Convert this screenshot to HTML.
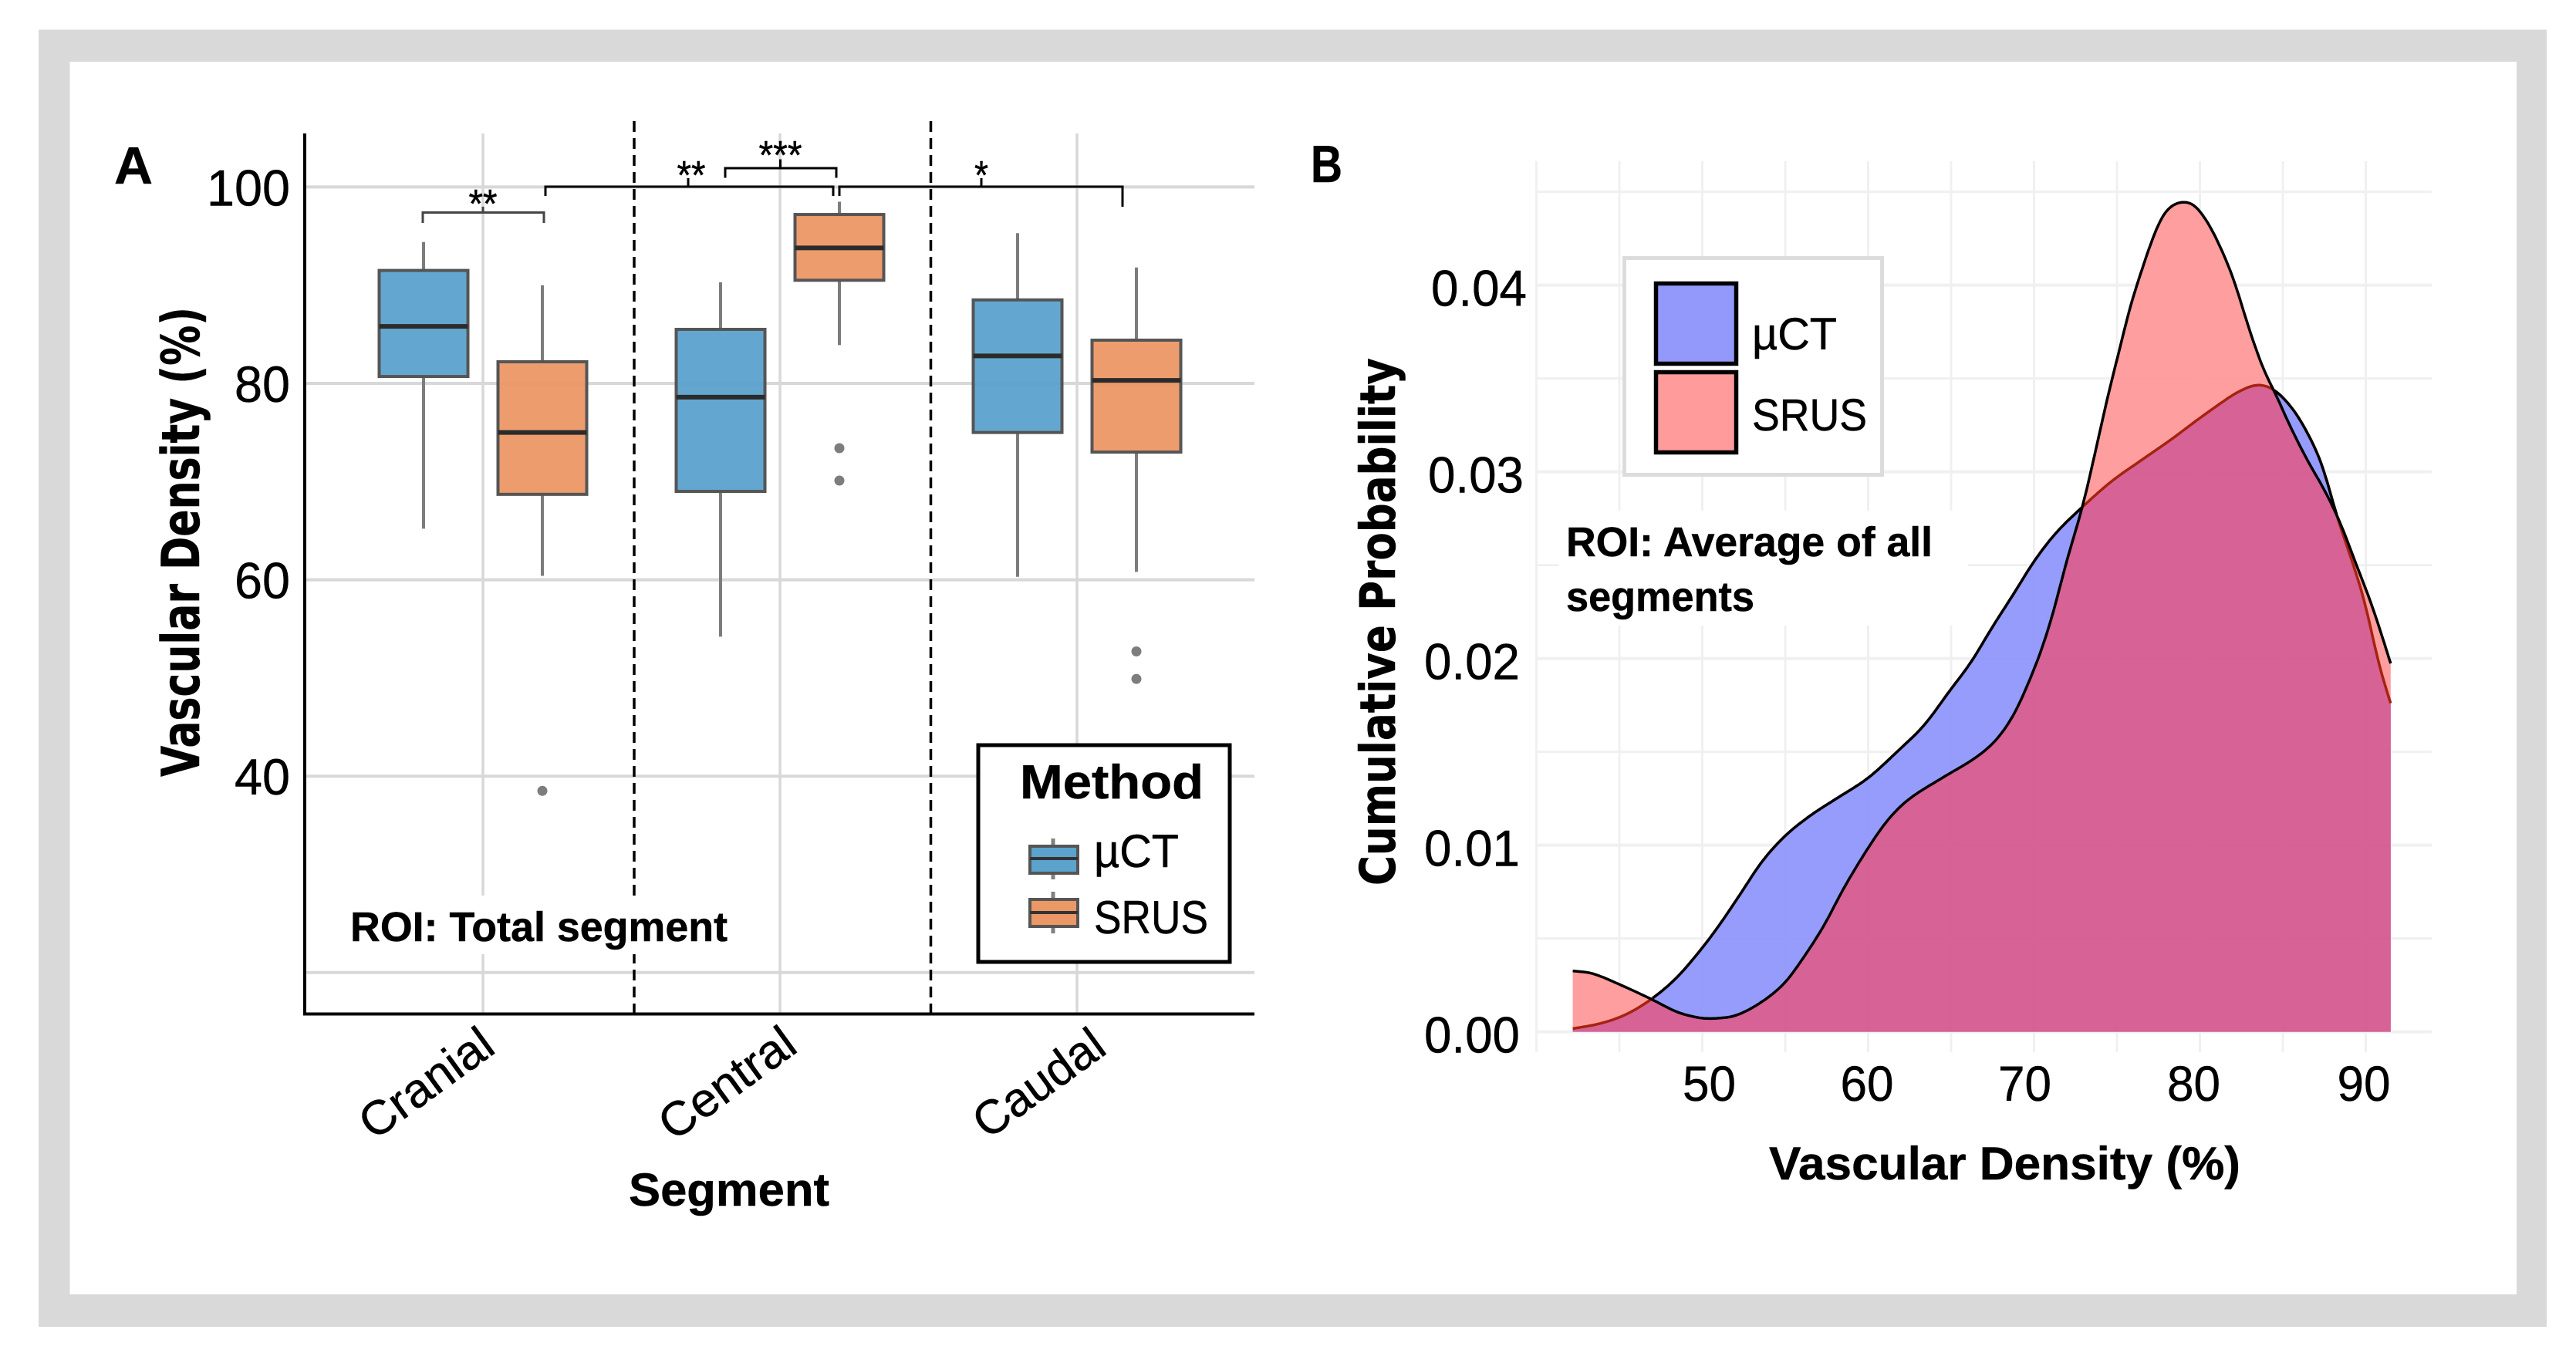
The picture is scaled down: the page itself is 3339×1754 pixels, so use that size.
<!DOCTYPE html>
<html lang="en">
<head>
<meta charset="utf-8">
<title>Vascular density boxplot and density chart</title>
<style>
html,body{margin:0;padding:0;background:#fff;}
svg{display:block;}
text{font-family:"Liberation Sans",sans-serif;fill:#000;stroke:#000;stroke-width:0.5;}
.dj{font-family:"DejaVu Sans",sans-serif;font-weight:bold;}
.b{font-weight:bold;}
</style>
</head>
<body>
<svg id="fig" xmlns="http://www.w3.org/2000/svg" width="3339" height="1754" viewBox="0 0 3339 1754">
  <rect x="0" y="0" width="3339" height="1754" fill="#fff"/>
  <rect x="50" y="38.5" width="3251" height="1681.5" fill="#d9d9d9"/>
  <rect x="90.5" y="80" width="3171.5" height="1598" fill="#fff"/>

  <g id="panelA"></g>
  <g id="panelB"></g>

  <!-- Panel A static annotations -->
  <text x="148" y="238" font-size="68" class="b" textLength="50" lengthAdjust="spacingAndGlyphs">A</text>
  <text class="dj" transform="translate(258,1007) rotate(-90)" font-size="68" textLength="609" lengthAdjust="spacingAndGlyphs">Vascular Density (%)</text>
  <text x="815" y="1563" font-size="60" class="b" textLength="260" lengthAdjust="spacingAndGlyphs">Segment</text>

  <rect x="448" y="1161" width="505" height="76" fill="#fff"/>
  <text x="454" y="1220" font-size="54" class="b" textLength="489" lengthAdjust="spacingAndGlyphs">ROI: Total segment</text>

  <g>
    <rect x="1268" y="966" width="326" height="281" fill="#fff" stroke="#000" stroke-width="5"/>
    <text x="1322" y="1035" font-size="62" class="b" textLength="238" lengthAdjust="spacingAndGlyphs">Method</text>
    <g>
      <line x1="1365" x2="1365" y1="1087" y2="1140" stroke="#808080" stroke-width="5"/>
      <rect x="1335" y="1097" width="62" height="35" fill="#5ba2cd" stroke="#555" stroke-width="4"/>
      <line x1="1335" x2="1397" y1="1113" y2="1113" stroke="#333" stroke-width="4"/>
      <text x="1418" y="1124" font-size="60" textLength="110" lengthAdjust="spacingAndGlyphs">µCT</text>
    </g>
    <g>
      <line x1="1365" x2="1365" y1="1156" y2="1210" stroke="#808080" stroke-width="5"/>
      <rect x="1335" y="1166" width="62" height="35" fill="#ec9766" stroke="#555" stroke-width="4"/>
      <line x1="1335" x2="1397" y1="1183" y2="1183" stroke="#333" stroke-width="4"/>
      <text x="1418" y="1210" font-size="60" textLength="148" lengthAdjust="spacingAndGlyphs">SRUS</text>
    </g>
  </g>

  <!-- Significance brackets -->
  <g fill="none">
    <path d="M548 289V275.5H705V289M626 275.5V268" stroke="#444" stroke-width="3"/>
    <path d="M707 254V242H1080V254M892 242V231" stroke="#000" stroke-width="3"/>
    <path d="M940 230.5V218H1084V230.5M1011.5 218V206.5" stroke="#000" stroke-width="3"/>
    <path d="M1088 254V242H1455V268M1272 242V231" stroke="#000" stroke-width="3"/>
  </g>
  <text x="626" y="282" font-size="52" text-anchor="middle" textLength="37" lengthAdjust="spacingAndGlyphs">**</text>
  <text x="896" y="245" font-size="52" text-anchor="middle" textLength="37" lengthAdjust="spacingAndGlyphs">**</text>
  <text x="1011.5" y="219" font-size="52" text-anchor="middle" textLength="56" lengthAdjust="spacingAndGlyphs">***</text>
  <text x="1272" y="245" font-size="52" text-anchor="middle" textLength="18" lengthAdjust="spacingAndGlyphs">*</text>

  <!-- Panel B static annotations -->
  <text x="1699" y="236" font-size="68" class="b" textLength="41" lengthAdjust="spacingAndGlyphs">B</text>
  <text class="dj" transform="translate(1808,1148) rotate(-90)" font-size="63" textLength="684" lengthAdjust="spacingAndGlyphs">Cumulative Probability</text>
  <text x="2293" y="1529" font-size="60" class="b" textLength="611" lengthAdjust="spacingAndGlyphs">Vascular Density (%)</text>

  <g>
    <rect x="2105.5" y="334.5" width="334" height="281" fill="#fff" stroke="#dcdcdc" stroke-width="5"/>
    <g>
      <rect x="2146.5" y="367.5" width="104" height="104" fill="#9399fb" stroke="#000" stroke-width="5.5"/>
      <text x="2271" y="453" font-size="58" textLength="110" lengthAdjust="spacingAndGlyphs">µCT</text>
    </g>
    <g>
      <rect x="2146.5" y="482.5" width="104" height="104" fill="#ff9b9b" stroke="#000" stroke-width="5.5"/>
      <text x="2271" y="558" font-size="58" textLength="149" lengthAdjust="spacingAndGlyphs">SRUS</text>
    </g>
  </g>
  <text x="2030" y="721" font-size="54" class="b" textLength="475" lengthAdjust="spacingAndGlyphs">ROI: Average of all</text>
  <text x="2030" y="792" font-size="54" class="b" textLength="244" lengthAdjust="spacingAndGlyphs">segments</text>
</svg>

<script>
// ---------- Panel A data ----------
var segments = ['Cranial', 'Central', 'Caudal'];
var yTicksA = [100, 80, 60, 40, 20];
var yTickLabelsA = ['100', '80', '60', '40'];

var ctHigh   = [94.4, 90.3, 95.3];
var ctQ3     = [91.5, 85.5, 88.5];
var ctMedian = [85.8, 78.6, 82.8];
var ctQ1     = [80.7, 69.0, 75.0];
var ctLow    = [65.2, 54.2, 60.3];

var srusHigh   = [90.0, 98.5, 91.8];
var srusQ3     = [82.2, 97.2, 84.4];
var srusMedian = [75.0, 93.8, 80.3];
var srusQ1     = [68.7, 90.5, 73.0];
var srusLow    = [60.4, 83.9, 60.8];

var srusOutliersCranial = [38.5];
var srusOutliersCentral = [73.4, 70.1];
var srusOutliersCaudal  = [52.7, 49.9];

// ---------- Panel B data ----------
var yTicksB = [0, 0.01, 0.02, 0.03, 0.04];
var yMinorTicksB = [0.005, 0.015, 0.025, 0.035, 0.045];
var yTickLabelsB = ['0.00', '0.01', '0.02', '0.03', '0.04'];
var xTicksB = [50, 60, 70, 80, 90];
var xMinorTicksB = [40, 45, 55, 65, 75, 85];

var ctDensityX = [42.19, 43.83, 45.38, 46.93, 48.48, 50, 51.1, 52.36, 53.6, 55, 56.54, 58.1, 60, 61.8, 63.4, 64.9, 66.2, 67.5, 68.8, 70, 71.3, 72.9, 74.69, 76.52, 78.36, 79.83, 81.12, 82.23, 83.42, 84.43, 85.54, 86.46, 87.38, 88.3, 89.03, 89.95, 90.78, 91.5];
var ctDensityY = [0.00017, 0.00044, 0.00092, 0.00175, 0.00292, 0.0045, 0.00581, 0.00747, 0.00912, 0.0105, 0.0116, 0.0125, 0.0136, 0.01505, 0.01645, 0.01825, 0.0198, 0.0217, 0.0235, 0.0252, 0.0267, 0.0281, 0.0295, 0.03065, 0.03179, 0.03277, 0.03359, 0.03424, 0.03465, 0.03441, 0.03343, 0.03212, 0.03032, 0.0275, 0.0256, 0.02297, 0.01973, 0.0176];

var srusDensityX = [42.19, 43.36, 44.9, 46.93, 48.48, 49.88, 50.8, 52.05, 53.6, 54.99, 56.08, 57.32, 58.56, 60, 61.17, 62.41, 64.5, 66.4, 67.68, 68.77, 69.7, 70.5, 71.2, 71.93, 72.94, 73.67, 74.5, 75.15, 75.79, 76.43, 77.08, 77.81, 78.55, 79.1, 79.65, 80.39, 81.12, 82.04, 82.96, 83.88, 84.53, 85.35, 86.46, 87.56, 88.48, 89.4, 90.32, 91.05, 91.5];
var srusDensityY = [0.00326, 0.00313, 0.00258, 0.00175, 0.00106, 0.00074, 0.00072, 0.00088, 0.00161, 0.00264, 0.00395, 0.00567, 0.00774, 0.00985, 0.01133, 0.01243, 0.01362, 0.01464, 0.0156, 0.01698, 0.01877, 0.0206, 0.0226, 0.0251, 0.02819, 0.03097, 0.03424, 0.03653, 0.03882, 0.04062, 0.04233, 0.0438, 0.04437, 0.04445, 0.04429, 0.04347, 0.04225, 0.04029, 0.03767, 0.03539, 0.03424, 0.03261, 0.03065, 0.02893, 0.02722, 0.02509, 0.02297, 0.02101, 0.01973];

// ---------- Helpers and axis functions ----------
var NS = 'http://www.w3.org/2000/svg';
function mk(parent, tag, attrs) {
  var el = document.createElementNS(NS, tag);
  for (var k in attrs) { el.setAttribute(k, attrs[k]); }
  parent.appendChild(el);
  return el;
}

var yA = function (v) { return 497 - (v - 80) * 12.73; };
var bandA = function (i) { return 626 + i * 385; };
var BOX_OFFSET = 77;
var BOX_HALF = 57.5;

var xB = function (v) { return 2206.5 + (v - 50) * 21.5; };
var yB = function (v) { return 1337.6 - v * 24200; };

// ---------- Panel A drawing ----------
var panelA = document.getElementById('panelA');

yTicksA.forEach(function (t) {
  var gl = mk(panelA, 'line', { x1: 395, x2: 1626, y1: yA(t), y2: yA(t), stroke: '#d8d8d8', 'stroke-width': 4 });
  
  
});
segments.forEach(function (s, i) {
  var gl = mk(panelA, 'line', { x1: bandA(i), x2: bandA(i), y1: 173, y2: 1314, stroke: '#d8d8d8', 'stroke-width': 3.5 });
  
  
});

function drawBox(i, sign, high, q3, med, q1, low, color, name, outliers) {
  var cx = bandA(i) + sign * BOX_OFFSET;
  var g = mk(panelA, 'g', {});
  
  
  mk(g, 'line', { x1: cx, x2: cx, y1: yA(high), y2: yA(q3), stroke: '#7c7c7c', 'stroke-width': 4 });
  mk(g, 'line', { x1: cx, x2: cx, y1: yA(q1), y2: yA(low), stroke: '#7c7c7c', 'stroke-width': 4 });
  mk(g, 'rect', { x: cx - BOX_HALF, y: yA(q3), width: BOX_HALF * 2, height: yA(q1) - yA(q3), fill: color, 'fill-opacity': 0.95, stroke: '#555', 'stroke-width': 4 });
  mk(g, 'line', { x1: cx - BOX_HALF, x2: cx + BOX_HALF, y1: yA(med), y2: yA(med), stroke: '#2b2b2b', 'stroke-width': 6 });
  outliers.forEach(function (o) {
    var dot = mk(g, 'circle', { cx: cx, cy: yA(o), r: 6.5, fill: '#7d7d7d' });
    
    
  });
}

var srusOutliers = [srusOutliersCranial, srusOutliersCentral, srusOutliersCaudal];
segments.forEach(function (s, i) {
  drawBox(i, -1, ctHigh[i], ctQ3[i], ctMedian[i], ctQ1[i], ctLow[i], '#5ba2cd', 'uct', []);
  drawBox(i, 1, srusHigh[i], srusQ3[i], srusMedian[i], srusQ1[i], srusLow[i], '#ec9766', 'srus', srusOutliers[i]);
});

[822, 1206.5].forEach(function (px, n) {
  var d = mk(panelA, 'line', { x1: px, x2: px, y1: 157, y2: 1318, stroke: '#000', 'stroke-width': 3.5, 'stroke-dasharray': '14 8' });
  
  
});

var axisYA = mk(panelA, 'line', { x1: 395, x2: 395, y1: 173, y2: 1316, stroke: '#000', 'stroke-width': 4 });


var axisXA = mk(panelA, 'line', { x1: 393, x2: 1626, y1: 1314.5, y2: 1314.5, stroke: '#000', 'stroke-width': 4 });



yTickLabelsA.forEach(function (lab) {
  var t = mk(panelA, 'text', { x: 376, y: yA(+lab) + 24, 'font-size': 66, 'text-anchor': 'end', textLength: lab.length * 36, lengthAdjust: 'spacingAndGlyphs' });
  t.textContent = lab;
  
  
});

var catNudgeX = [-73, -68, -49];
var catLengths = [198, 202, 194];
segments.forEach(function (s, i) {
  var cx = bandA(i) + catNudgeX[i];
  var t = mk(panelA, 'text', { transform: 'translate(' + cx + ',1405) rotate(-36)', y: 20, 'font-size': 62, 'text-anchor': 'middle', textLength: catLengths[i], lengthAdjust: 'spacingAndGlyphs' });
  t.textContent = s;
  
  
});

// ---------- Panel B drawing ----------
var panelB = document.getElementById('panelB');

function gridH(v, w) {
  var l = mk(panelB, 'line', { x1: 1991, x2: 3152, y1: yB(v), y2: yB(v), stroke: '#f0f0f0', 'stroke-width': w });
  
  
}
function gridV(v, w) {
  var l = mk(panelB, 'line', { x1: xB(v), x2: xB(v), y1: 209, y2: 1364, stroke: '#f0f0f0', 'stroke-width': w });
  
  
}
yMinorTicksB.forEach(function (v) { gridH(v, 3); });
yTicksB.forEach(function (v) { gridH(v, 4); });
xMinorTicksB.forEach(function (v) { gridV(v, 3); });
xTicksB.forEach(function (v) { gridV(v, 3); });

var roiMask = mk(panelB, 'rect', { x: 2020, y: 662, width: 531, height: 149, fill: '#fff' });



// Smooth interpolation of read-off points (cubic Hermite on x, then a light moving average)
function smoothFn(xs, ys) {
  var n = xs.length, m = [];
  for (var i = 0; i < n; i++) {
    if (i === 0) m[i] = (ys[1] - ys[0]) / (xs[1] - xs[0]);
    else if (i === n - 1) m[i] = (ys[n - 1] - ys[n - 2]) / (xs[n - 1] - xs[n - 2]);
    else m[i] = (ys[i + 1] - ys[i - 1]) / (xs[i + 1] - xs[i - 1]);
  }
  var xMin = xs[0], xMax = xs[n - 1];
  var raw = function (x) {
    x = Math.max(xMin, Math.min(xMax, x));
    var k = 0;
    while (k < n - 2 && x > xs[k + 1]) k++;
    var h = xs[k + 1] - xs[k], t = (x - xs[k]) / h, t2 = t * t, t3 = t2 * t;
    return (2 * t3 - 3 * t2 + 1) * ys[k] + (t3 - 2 * t2 + t) * h * m[k] + (-2 * t3 + 3 * t2) * ys[k + 1] + (t3 - t2) * h * m[k + 1];
  };
  return function (x) {
    var w = Math.min(0.35, x - xMin, xMax - x);
    if (w <= 0) return raw(x);
    var sum = 0, count = 0;
    for (var j = -4; j <= 4; j++) { sum += raw(x + w * j / 4); count++; }
    return sum / count;
  };
}

var ctFn = smoothFn(ctDensityX, ctDensityY);
var srusFn = smoothFn(srusDensityX, srusDensityY);
var x0 = Math.max(ctDensityX[0], srusDensityX[0]);
var x1 = Math.min(ctDensityX[ctDensityX.length - 1], srusDensityX[srusDensityX.length - 1]);
var STEPS = 500;
var grid = [];
for (var s = 0; s <= STEPS; s++) { grid.push(x0 + (x1 - x0) * s / STEPS); }

function pts(fn, xs) {
  return xs.map(function (x) { return xB(x).toFixed(1) + ',' + yB(fn(x)).toFixed(1); }).join(' ');
}
function area(fn) {
  return xB(x0).toFixed(1) + ',' + yB(0).toFixed(1) + ' ' + pts(fn, grid) + ' ' + xB(x1).toFixed(1) + ',' + yB(0).toFixed(1);
}
var minFn = function (x) { return Math.min(ctFn(x), srusFn(x)); };

var fills = mk(panelB, 'g', { opacity: 0.97 });


var areaCt = mk(fills, 'polygon', { points: area(ctFn), fill: '#9399fb' });


var areaSrus = mk(fills, 'polygon', { points: area(srusFn), fill: '#ff9b9b' });


var areaBoth = mk(fills, 'polygon', { points: area(minFn), fill: '#d55d93' });



// µCT outline: dark red where covered by the SRUS fill, black elsewhere
var ctUnder = mk(panelB, 'polyline', { points: pts(ctFn, grid), fill: 'none', stroke: '#a5230f', 'stroke-width': 3.5 });


var run = [];
function flushRun() {
  if (run.length > 1) {
    var seg = mk(panelB, 'polyline', { points: pts(ctFn, run), fill: 'none', stroke: '#000', 'stroke-width': 3.5 });
    
    
  }
  run = [];
}
grid.forEach(function (x) {
  if (ctFn(x) >= srusFn(x)) { run.push(x); } else { flushRun(); }
});
flushRun();

var srusLine = mk(panelB, 'polyline', { points: pts(srusFn, grid), fill: 'none', stroke: '#000', 'stroke-width': 3.5 });



var yLabelLeftShift = [0, 0, 0, 5, 9];
yTickLabelsB.forEach(function (lab, i) {
  var t = mk(panelB, 'text', { x: 1970 + yLabelLeftShift[i], y: yB(yTicksB[i]) + 27, 'font-size': 66, 'text-anchor': 'end', textLength: 124, lengthAdjust: 'spacingAndGlyphs' });
  t.textContent = lab;
  
  
});

var xLabelNudge = [9, -1.5, -12, -8, -2.5];
xTicksB.forEach(function (v, i) {
  var t = mk(panelB, 'text', { x: xB(v) + xLabelNudge[i], y: 1427, 'font-size': 64, 'text-anchor': 'middle', textLength: 69, lengthAdjust: 'spacingAndGlyphs' });
  t.textContent = String(v);
  
  
});
</script>
</body>
</html>
